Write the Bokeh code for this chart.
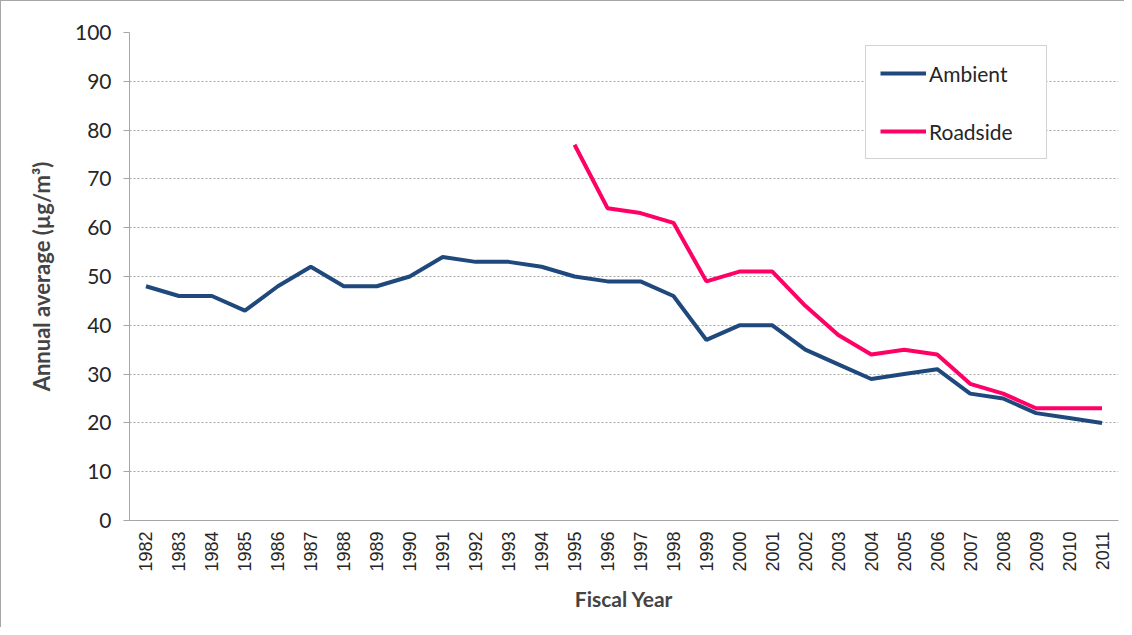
from math import pi
from bokeh.plotting import figure
from bokeh.models import FactorRange, Range1d, Legend, LegendItem, SingleIntervalTicker
from bokeh.embed import file_html
from bokeh.resources import INLINE

years = [str(y) for y in range(1982, 2012)]
ambient = [48, 46, 46, 43, 48, 52, 48, 48, 50, 54, 53, 53, 52, 50, 49, 49, 46, 37, 40, 40,
           35, 32, 29, 30, 31, 26, 25, 22, 21, 20]
roadside_years = [str(y) for y in range(1995, 2012)]
roadside = [77, 64, 63, 61, 49, 51, 51, 44, 38, 34, 35, 34, 28, 26, 23, 23, 23]

p = figure(width=1124, height=627, x_range=FactorRange(*years, range_padding=0),
           y_range=Range1d(0, 100), output_backend="svg", toolbar_location=None,
           min_border_left=128, min_border_right=7, min_border_top=31, min_border_bottom=108)
p.outline_line_color = None
p.styles = {"border-top": "1px solid #A6A6A6", "border-left": "1px solid #A6A6A6"}

l1 = p.line(years, ambient, line_color="#1F497D", line_width=4)
l2 = p.line(roadside_years, roadside, line_color="#FF0066", line_width=4)

p.xgrid.grid_line_color = None
p.ygrid.grid_line_color = "#A6A6A6"
p.ygrid.grid_line_dash = "2 2"
p.ygrid.grid_line_width = 1
p.yaxis.ticker = SingleIntervalTicker(interval=10)

ax = p.yaxis[0]
ax.axis_line_color = "#A6A6A6"
ax.major_tick_line_color = "#A6A6A6"
ax.major_tick_out = 6
ax.major_tick_in = 0
ax.minor_tick_line_color = None
ax.major_label_text_font = "Lato"
ax.major_label_text_font_size = "21px"
ax.major_label_text_color = "#262626"
ax.major_label_standoff = 12
ax.axis_label = "Annual average (µg/m³)"
ax.axis_label_text_font = "Lato"
ax.axis_label_text_font_style = "bold"
ax.axis_label_text_font_size = "22px"
ax.axis_label_standoff = 17

xa = p.xaxis[0]
xa.axis_line_color = "#A6A6A6"
xa.major_tick_line_color = None
xa.major_label_orientation = pi / 2
xa.major_label_text_font = "Liberation Sans"
xa.major_label_text_font_size = "18px"
xa.major_label_text_color = "#262626"
xa.major_label_standoff = 5
xa.axis_label = "Fiscal Year"
xa.axis_label_text_font = "Lato"
xa.axis_label_text_font_style = "bold"
xa.axis_label_text_font_size = "21px"
xa.axis_label_standoff = 11

legend = Legend(items=[LegendItem(label="Ambient", renderers=[l1]),
                       LegendItem(label="Roadside", renderers=[l2])],
                location=(736, 361), orientation="vertical",
                padding=14, spacing=32, glyph_width=46, glyph_height=26,
                label_height=26, label_width=103, label_standoff=3,
                label_text_font="Lato", label_text_font_size="21px",
                label_text_color="#262626", border_line_color="#A6A6A6",
                border_line_width=1, background_fill_alpha=1, margin=0)
p.add_layout(legend)

open("out.html", "w").write(file_html(p, INLINE))
